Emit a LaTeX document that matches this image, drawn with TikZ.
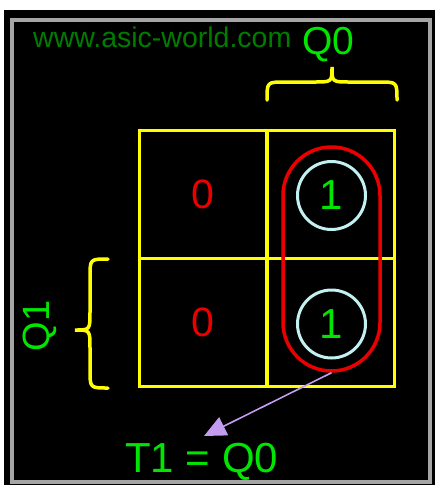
\documentclass[tikz,border=0pt]{standalone}
\usepackage{fontspec}
\setmainfont{Liberation Sans}
\usetikzlibrary{arrows.meta}
\definecolor{kyellow}{RGB}{255,255,0}
\definecolor{kred}{RGB}{235,0,0}
\definecolor{kgreen}{RGB}{0,230,0}
\definecolor{kdgreen}{RGB}{0,125,0}
\definecolor{kcyan}{RGB}{195,240,240}
\definecolor{klav}{RGB}{195,155,240}
\definecolor{kgray}{RGB}{165,165,165}
\begin{document}
\begin{tikzpicture}[x=1pt,y=-1pt,
  cell/.style={draw=kyellow,line width=3.5pt,minimum width=127.5pt,minimum height=128pt,inner sep=0pt,
    font=\fontsize{41}{41}\selectfont,text=kred},
  loopbox/.style={draw=kred,line width=3.5pt,minimum width=97pt,minimum height=224pt,rounded corners=48.5pt,inner sep=0pt},
  onec/.style={circle,draw=kcyan,line width=3pt,minimum size=68pt,inner sep=0pt,
    font=\fontsize{42}{42}\selectfont,text=kgreen},
  bracep/.style={draw=kyellow,line width=3.5pt,line cap=round},
  lbl/.style={inner sep=0pt,text=kgreen},
  arr/.style={draw=klav,line width=1.6pt,-{Triangle[length=22pt,width=20pt]}}]
\fill[white] (0,0) rectangle (435,485);
\useasboundingbox (0,0) rectangle (435,485);
\fill[black] (4,10) rectangle (435,485);
\draw[kgray,line width=4pt] (11.5,20) rectangle (430,482);
% title
\node[inner sep=0pt,anchor=base west,text=kdgreen,font=\fontsize{28.5}{28.5}\selectfont] (www) at (33,47) {www.asic-world.com};
\node[lbl,anchor=base west,font=\fontsize{39}{39}\selectfont] (q0) at (302,54) {Q0};
% grid
\node[cell] (c00) at (203,194.5) {0};
\node[cell] (c01) at (330.5,194.5) {};
\node[cell] (c10) at (203,322.5) {0};
\node[cell] (c11) at (330.5,322.5) {};
% group
\node[loopbox] (grp) at (331.5,259) {};
\node[onec] (o1) at (331.5,195.5) {1};
\node[onec] (o2) at (331.5,324) {1};
% braces
\draw[bracep] (267,100) .. controls (267,82) .. (285,82) -- (314,82) .. controls (332,82) .. (332,67)
  .. controls (332,82) .. (350,82) -- (379,82) .. controls (397,82) .. (397,100);
\draw[bracep] (108,259) .. controls (90,259) .. (90,277) -- (90,312) .. controls (90,330) .. (75,330)
  .. controls (90,330) .. (90,348) -- (90,370) .. controls (90,388) .. (108,388);
\node[lbl,rotate=90,font=\fontsize{38}{38}\selectfont] (q1) at (40,326) {Q1};
% result
\node[lbl,anchor=base west,font=\fontsize{42}{42}\selectfont] (res) at (125,472) {T1 = Q0};
\coordinate (tip) at (204,436);
\draw[arr] (grp.south) -- (tip);
\end{tikzpicture}
\end{document}
